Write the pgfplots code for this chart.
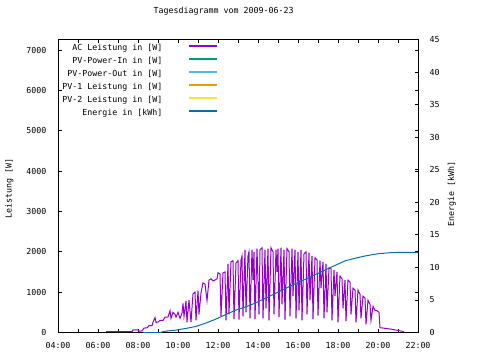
\documentclass[border=0pt]{standalone}
\usepackage{pgfplots}
\pgfplotsset{compat=1.18}
\usepackage{fontspec}
\setmainfont{DejaVu Sans Mono}
\newcommand\gp{\fontsize{8.3bp}{10bp}\selectfont}
\definecolor{acpurple}{HTML}{9400D3}
\definecolor{pvgreen}{HTML}{009E73}
\definecolor{pvlblue}{HTML}{56B4E9}
\definecolor{pvorange}{HTML}{E69F00}
\definecolor{pvyellow}{HTML}{F0E442}
\definecolor{enblue}{HTML}{0072B2}
\pgfplotstableread{
h w
6.40 20
7.70 20
7.75 65
8.00 65
8.05 30
8.20 40
8.30 110
8.45 115
8.55 170
8.70 170
8.75 255
8.85 370
8.90 250
9.00 260
9.10 300
9.25 300
9.35 380
9.50 380
9.60 540
9.65 350
9.75 500
9.85 450
9.90 380
10.00 500
10.10 350
10.20 480
10.25 720
10.30 400
10.40 780
10.45 250
10.55 800
10.65 260
10.75 960
10.85 1000
10.90 300
11.00 1040
11.05 450
11.15 980
11.25 1230
11.35 1200
11.45 790
11.55 1300
11.65 1330
11.75 1280
11.85 1300
11.95 1330
12.00 1480
12.10 1450
12.15 400
12.25 1480
12.35 1500
12.40 300
12.50 1700
12.55 450
12.65 1750
12.75 1780
12.80 330
12.90 1720
13.00 1780
13.05 320
13.15 1800
13.20 1900
13.25 400
13.35 2050
13.40 500
13.50 1900
13.55 2000
13.60 350
13.70 2050
13.75 1300
13.80 2000
13.85 330
13.95 2080
14.05 450
14.10 2050
14.20 2100
14.25 350
14.35 2050
14.40 600
14.50 2080
14.55 300
14.65 2100
14.75 2000
14.80 450
14.90 2050
14.95 1500
15.00 2080
15.05 380
15.15 2100
15.20 700
15.30 2050
15.35 320
15.45 2080
15.55 2000
15.60 400
15.70 2080
15.75 900
15.85 2050
15.90 350
16.00 2000
16.05 550
16.15 2050
16.20 300
16.30 1950
16.40 2000
16.45 450
16.55 1980
16.60 800
16.70 1900
16.75 330
16.85 1850
16.95 1800
17.00 420
17.10 1780
17.15 1100
17.25 1750
17.30 350
17.40 1700
17.45 500
17.55 1600
17.65 1580
17.70 300
17.80 1550
17.85 900
17.95 1500
18.00 250
18.10 1400
18.20 1330
18.25 600
18.35 1300
18.40 280
18.50 1300
18.60 1250
18.65 450
18.75 1100
18.85 1050
18.90 250
19.00 1050
19.10 950
19.15 350
19.25 900
19.35 850
19.40 200
19.50 800
19.60 700
19.65 300
19.75 650
19.85 550
19.95 540
20.05 500
20.10 120
20.40 100
20.70 80
21.00 50
21.30 20
}\acdata
\pgfplotstableread{
h e
8.27 0
9.15 0
9.20 0.1
9.50 0.25
9.85 0.35
10.35 0.6
10.85 0.9
11.35 1.4
11.85 2.0
12.35 2.7
12.85 3.4
13.35 3.9
13.85 4.5
14.60 5.6
15.60 7.1
16.60 8.5
17.35 9.6
17.85 10.3
18.35 11.0
18.85 11.4
19.35 11.75
20.00 12.1
20.70 12.27
21.00 12.3
22.00 12.3
}\endata
\newcommand\legline[1]{\addlegendimage{legend image code/.code={\draw[#1, line width=1.4bp] (0bp,2.5bp) -- (28bp,2.5bp);}}}
\begin{document}
\begin{tikzpicture}
\useasboundingbox (0,0) rectangle (480bp,360bp);
\begin{axis}[
  at={(58bp,27.5bp)}, anchor=south west,
  scale only axis, width=360bp, height=293bp,
  xmin=4, xmax=22, ymin=0, ymax=7260,
  axis line style={line width=0.8bp},
  every tick/.style={black, line width=0.8bp},
  major tick length=3.5bp, minor tick length=3.5bp,
  xtick={4,6,...,22},
  xticklabels={04:00,06:00,08:00,10:00,12:00,14:00,16:00,18:00,20:00,22:00},
  minor xtick={5,7,...,21},
  ytick={0,1000,...,7000},
  /pgf/number format/assume math mode=true,
  /pgf/number format/1000 sep={},
  tick label style={font=\gp},
  xticklabel style={yshift=-6.5bp},
  yticklabel style={xshift=-8bp},
  title={Tagesdiagramm vom 2009-06-23},
  title style={font=\gp, at={(axis description cs:0.46,1.075)}, anchor=center},
  ylabel={Leistung [W]},
  ylabel style={font=\gp, at={(axis description cs:-0.135,0.49)}, anchor=center},
  legend style={at={(axis description cs:0.4444,0.983)}, anchor=north east,
    draw=none, fill=none, font=\gp, inner sep=0pt, row sep=5.5bp, column sep=26bp,
    nodes={inner sep=0pt, text height=6bp, text depth=1.5bp}},
  legend cell align=right,
  legend plot pos=right,
]
\legline{acpurple}
\addlegendentry{AC Leistung in [W]}
\legline{pvgreen}
\addlegendentry{PV-Power-In in [W]}
\legline{pvlblue}
\addlegendentry{PV-Power-Out in [W]}
\legline{pvorange}
\addlegendentry{PV-1 Leistung in [W]}
\legline{pvyellow}
\addlegendentry{PV-2 Leistung in [W]}
\legline{enblue}
\addlegendentry{Energie in [kWh]}
\addplot[acpurple, line width=1bp, forget plot] table[x=h, y=w] {\acdata};
\end{axis}
\begin{axis}[
  at={(58bp,27.5bp)}, anchor=south west,
  scale only axis, width=360bp, height=293bp,
  xmin=4, xmax=22, ymin=0, ymax=45,
  axis x line=none, axis y line*=right,
  axis line style={line width=0.8bp},
  every tick/.style={black, line width=0.8bp},
  major tick length=3.5bp,
  ytick={0,5,...,45},
  /pgf/number format/assume math mode=true,
  tick label style={font=\gp},
  yticklabel style={xshift=8bp},
  ylabel={Energie [kWh]},
  ylabel style={font=\gp, at={(axis description cs:1.094,0.473)}, anchor=center},
]
\addplot[enblue, line width=1bp] table[x=h, y=e] {\endata};
\end{axis}
\end{tikzpicture}
\end{document}
